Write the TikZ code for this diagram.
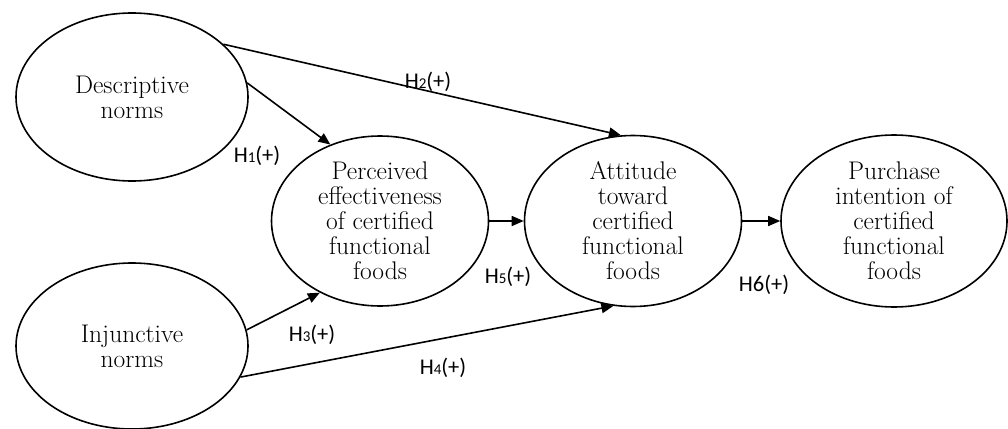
\documentclass[tikz,border=0pt]{standalone}
\usepackage{fontspec}
\usepackage{tikz}
\usetikzlibrary{shapes.geometric,arrows.meta}
\newfontfamily\labfont{Carlito}
\newcommand{\hyplab}[1]{H{\fontsize{15}{15}\selectfont #1}(+)}

\begin{document}
\begin{tikzpicture}[x=1pt,y=-1pt,line width=1.6pt,->,>={Triangle[length=12pt,width=10pt]}]
    \tikzstyle{construct}=[ellipse,draw,line width=1.6pt,inner sep=0pt,align=center,font=\fontsize{25.5}{25}\selectfont]
    \tikzstyle{hlab}=[inner sep=0pt,font=\labfont\fontsize{22.5}{22.5}\selectfont]
    \useasboundingbox (0,0) rectangle (1008,428);
    \node[construct,minimum width=232pt,minimum height=168pt] (desc) at (132,97) {Descriptive\\norms};
    \node[construct,minimum width=232pt,minimum height=166pt] (inj) at (132,346) {Injunctive\\norms};
    \node[construct,minimum width=217pt,minimum height=170pt] (perc) at (380,221) {Perceived\\effectiveness\\of certified\\functional\\foods};
    \node[construct,minimum width=217pt,minimum height=171pt] (att) at (633,221) {Attitude\\toward\\certified\\functional\\foods};
    \node[construct,minimum width=226pt,minimum height=172pt] (pur) at (894,221) {Purchase\\intention of\\certified\\functional\\foods};
    \node[hlab] (h1) at (257,156) {\hyplab{1}};
    \node[hlab] (h2) at (428,82) {\hyplab{2}};
    \node[hlab] (h3) at (312,335) {\hyplab{3}};
    \node[hlab] (h4) at (443,368) {\hyplab{4}};
    \node[hlab] (h5) at (508,277) {\hyplab{5}};
    \node[hlab] (h6) at (764,285) {H6(+)};
    \draw (desc.7) -- (perc.123);
    \draw (desc.30) -- (att.98);
    \draw (inj.8) -- (perc.230);
    \draw (inj.-16) -- (att.257);
    \draw (perc.east) -- (att.west);
    \draw (att.east) -- (pur.west);
\end{tikzpicture}
\end{document}
